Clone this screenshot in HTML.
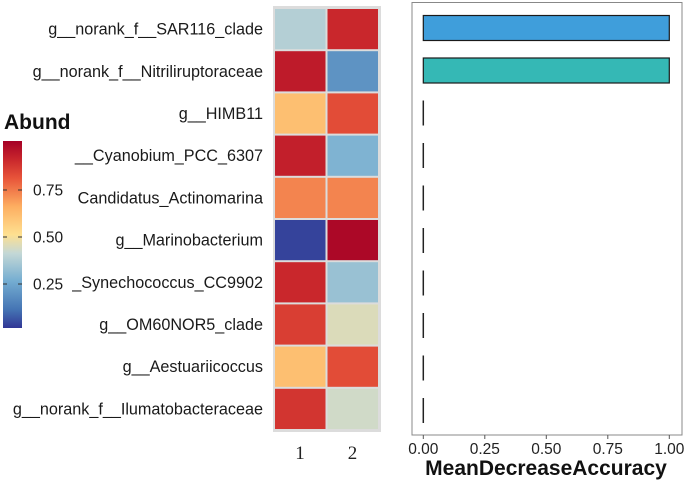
<!DOCTYPE html>
<html><head><meta charset="utf-8"><style>
body{margin:0;background:#fff;}
svg{display:block;font-family:"Liberation Sans",sans-serif;}
</style></head><body>
<svg id="c" width="685" height="481" viewBox="0 0 685 481">
<defs><linearGradient id="g" x1="0" y1="1" x2="0" y2="0">
<stop offset="0" stop-color="#313695"/><stop offset="0.1" stop-color="#4575b4"/><stop offset="0.25" stop-color="#74add1"/><stop offset="0.4" stop-color="#c4d8d6"/><stop offset="0.5" stop-color="#fee090"/><stop offset="0.65" stop-color="#fdae61"/><stop offset="0.8" stop-color="#e8553a"/><stop offset="0.9" stop-color="#c9272c"/><stop offset="1" stop-color="#a50026"/></linearGradient></defs>
</svg>
<script>
const taxa=["g__norank_f__SAR116_clade","g__norank_f__Nitriliruptoraceae","g__HIMB11","__Cyanobium_PCC_6307","Candidatus_Actinomarina","g__Marinobacterium","_Synechococcus_CC9902","g__OM60NOR5_clade","g__Aestuariicoccus","g__norank_f__Ilumatobacteraceae"];
const abund1=[0.37,0.93,0.6,0.92,0.72,0.02,0.9,0.85,0.6,0.87];
const abund2=[0.9,0.18,0.82,0.27,0.72,0.98,0.32,0.44,0.82,0.42];
const mda=[1,1,0,0,0,0,0,0,0,0];
const xTicks=[0,0.25,0.5,0.75,1];
const legTicks=[0.25,0.5,0.75];
const NS="http://www.w3.org/2000/svg",svg=document.getElementById('c');
function mk(t,a,txt){const e=document.createElementNS(NS,t);for(const k in a)e.setAttribute(k,a[k]);if(txt!==undefined)e.textContent=txt;svg.appendChild(e);return e;}
const stops=[[0,[49,54,149]],[0.1,[69,117,180]],[0.25,[116,173,209]],[0.4,[196,216,214]],[0.5,[254,224,144]],[0.65,[253,174,97]],[0.8,[232,85,58]],[0.9,[201,39,44]],[1,[165,0,38]]];
function col(v){for(let i=1;i<stops.length;i++){if(v<=stops[i][0]){const a=stops[i-1],b=stops[i],t=(v-a[0])/(b[0]-a[0]);return 'rgb('+a[1].map((c,j)=>Math.round(c+(b[1][j]-c)*t)).join(',')+')';}}return 'rgb(165,0,38)';}
const rowY=i=>8+i*42.2, rowH=42.2;
const colX=j=>275+j*52.5;
const xs=v=>423.3+v*246;
const ls=v=>331-v*188;
let e;
e=mk('rect',{x:273,y:6,width:108,height:426,fill:'#dcdcdc'});

taxa.forEach((t,i)=>{
  e=mk('text',{x:263,y:rowY(i)+rowH/2+5.5,'text-anchor':'end','font-size':16.2,fill:'#1a1a1a'},t);
  
  [abund1[i],abund2[i]].forEach((v,j)=>{
    e=mk('rect',{x:colX(j),y:rowY(i)+1,width:50.5,height:rowH-2,fill:col(v)});
    
  });
  const cy=28+i*42.5;
  if(mda[i]>0){
    e=mk('rect',{x:xs(0),y:cy-12.5,width:xs(mda[i])-xs(0),height:25,fill:i==0?'#3f9edb':'#35b8b5',stroke:'#1a1a1a','stroke-width':1.2});
    
  } else {
    e=mk('line',{x1:xs(0),x2:xs(0),y1:cy-12.5,y2:cy+12.5,stroke:'#222','stroke-width':1.5});
    
  }
});
["1","2"].forEach((c,j)=>{e=mk('text',{x:colX(j)+25,y:459,'text-anchor':'middle','font-size':19,'font-family':'Liberation Serif, serif',fill:'#222'},c);
});
e=mk('text',{x:4,y:129,'font-size':21,'font-weight':'bold',fill:'#111'},'Abund');

e=mk('rect',{x:3,y:141,width:19,height:187,fill:'url(#g)'});

legTicks.forEach(v=>{
  mk('line',{x1:3,x2:7,y1:ls(v),y2:ls(v),stroke:'#333'});mk('line',{x1:18,x2:22,y1:ls(v),y2:ls(v),stroke:'#333'});
  e=mk('text',{x:33,y:ls(v)+5.5,'font-size':15.5,fill:'#1a1a1a'},v.toFixed(2));
  
});
e=mk('rect',{x:412,y:2.5,width:270,height:432.5,fill:'none',stroke:'#888','stroke-width':1});

xTicks.forEach(v=>{
  mk('line',{x1:xs(v),x2:xs(v),y1:435,y2:439,stroke:'#555'});
  e=mk('text',{x:xs(v),y:454,'text-anchor':'middle','font-size':15.5,fill:'#222'},v.toFixed(2));
  
});
e=mk('text',{x:546,y:475,'text-anchor':'middle','font-size':21,'font-weight':'bold',fill:'#111'},'MeanDecreaseAccuracy');

</script>
</body></html>
